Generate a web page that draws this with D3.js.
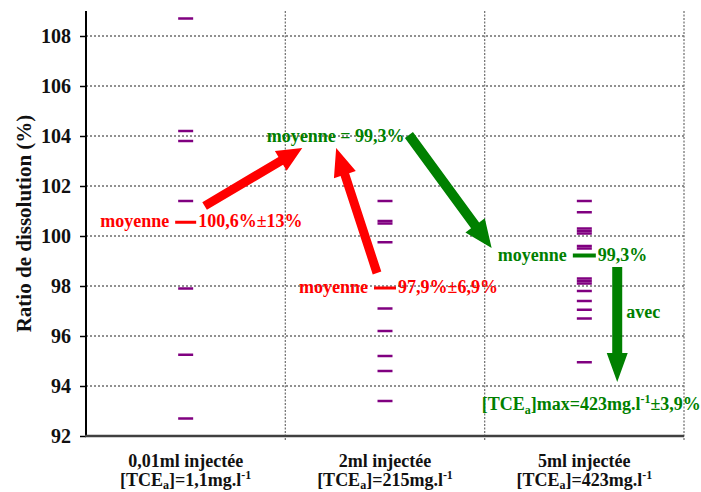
<!DOCTYPE html>
<html><head><meta charset="utf-8">
<script src="https://cdn.jsdelivr.net/npm/d3@7"></script>
<style>
body{margin:0;background:#fff;}
svg{display:block;}
</style></head>
<body><div id="chart"></div>
<script>
// ---- data ----
const categories = ["0,01ml injectée", "2ml injectée", "5ml injectée"];
const concentrations = ["1,1", "215", "423"];
const yTicks = [92, 94, 96, 98, 100, 102, 104, 106, 108];
const series1 = [108.7, 104.2, 103.8, 101.4, 97.9, 95.25, 92.7];
const series2 = [101.4, 100.6, 100.5, 99.75, 97.1, 96.2, 95.2, 94.6, 93.4];
const series3 = [101.4, 100.95, 100.3, 100.2, 100.1, 99.6, 99.5, 98.3, 98.2, 98.1, 97.8, 97.4, 97.05, 96.7, 94.95];
const meanValues = [100.55, 97.92, 99.22];
const meanLabels = ["100,6%±13%", "97,9%±6,9%", "99,3%"];
const overallMean = 99.3;

const W = 701, H = 492;
const margin = {left: 86, right: 17, top: 11, bottom: 56};
const svg = d3.select("#chart").append("svg").attr("width", W).attr("height", H);

const x = d3.scaleLinear().domain([0, 3]).range([margin.left, W - margin.right]);
const y = d3.scaleLinear().domain([92, 109]).range([H - margin.bottom, margin.top]);

const RED = "#ff0000", GREEN = "#008000", PURPLE = "#800080";

// gridlines
svg.append("g").selectAll("line").data(yTicks.filter(d => d > 92)).join("line")
  .attr("x1", x(0)).attr("x2", x(3)).attr("y1", d => y(d)).attr("y2", d => y(d))
  .attr("stroke", "#222").attr("stroke-width", 1).attr("stroke-dasharray", "2,2");
svg.append("g").selectAll("line").data([1, 2, 3]).join("line")
  .attr("x1", d => x(d)).attr("x2", d => x(d)).attr("y1", y(109)).attr("y2", y(92) + 4)
  .attr("stroke", "#777").attr("stroke-width", 1.3).attr("stroke-dasharray", "2,1.5");

// axes
const yAxis = d3.axisLeft(y).tickValues(yTicks).tickSize(6).tickPadding(9).tickFormat(d3.format("d"));
const gy = svg.append("g").attr("transform", `translate(${x(0)},0)`).call(yAxis);
gy.select(".domain").remove();
gy.selectAll(".tick line").attr("stroke", "#000").attr("stroke-width", 1.5);
gy.selectAll(".tick text").attr("fill", "#111").style("font-size", "20px");
svg.append("line").attr("x1", x(0)).attr("x2", x(0)).attr("y1", y(109)).attr("y2", y(92))
  .attr("stroke", "#000").attr("stroke-width", 2);
svg.append("line").attr("x1", x(0) - 1).attr("x2", x(3)).attr("y1", y(92)).attr("y2", y(92))
  .attr("stroke", "#404040").attr("stroke-width", 2.5);

// axis title
svg.append("text").attr("transform", `translate(24,${y(100.5)}) rotate(-90)`)
  .attr("text-anchor", "middle").attr("dominant-baseline", "central")
  .attr("font-size", 21).attr("fill", "#111").text("Ratio de dissolution (%)");

// category labels
const catG = svg.append("g").selectAll("g").data(categories).join("g")
  .attr("transform", (d, i) => `translate(${x(i + 0.5)},0)`);
catG.append("text").attr("y", 467).attr("text-anchor", "middle").attr("font-size", 18)
  .attr("fill", "#111").text(d => d);
const l2 = catG.append("text").attr("y", 486).attr("text-anchor", "middle").attr("font-size", 18).attr("fill", "#111");
l2.append("tspan").text("[TCE");
l2.append("tspan").attr("font-size", 12).attr("dy", 3).text("a");
l2.append("tspan").attr("dy", -3).text((d, i) => "]=" + concentrations[i] + "mg.l");
l2.append("tspan").attr("font-size", 12).attr("dy", -7).text("-1");

// measurement marks
const allSeries = [series1, series2, series3];
allSeries.forEach((s, i) => {
  svg.append("g").selectAll("line").data(s).join("line")
    .attr("x1", x(i + 0.5) - 7.5).attr("x2", x(i + 0.5) + 7.5)
    .attr("y1", d => y(d)).attr("y2", d => y(d))
    .attr("stroke", PURPLE).attr("stroke-width", 2.5);
});

// means
const meanColors = [RED, RED, GREEN];
const meanHalf = [10.5, 11, 11.5];
meanValues.forEach((m, i) => {
  const cx = x(i + 0.5), cy = y(m);
  svg.append("line").attr("x1", cx - meanHalf[i]).attr("x2", cx + meanHalf[i])
    .attr("y1", cy).attr("y2", cy).attr("stroke", meanColors[i]).attr("stroke-width", i === 2 ? 4 : 3);
  svg.append("text").attr("x", cx - meanHalf[i] - 6).attr("y", cy + 5).attr("text-anchor", "end")
    .attr("font-size", 18).attr("fill", meanColors[i]).text("moyenne");
  svg.append("text").attr("x", cx + meanHalf[i] + 2).attr("y", cy + 5).attr("text-anchor", "start")
    .attr("font-size", 18).attr("fill", meanColors[i]).text(meanLabels[i]);
});

// overall mean label
svg.append("text").attr("x", x(1.2525)).attr("y", y(104)).attr("text-anchor", "middle")
  .attr("dominant-baseline", "central").attr("font-size", 18).attr("fill", GREEN)
  .text("moyenne = " + String(overallMean).replace(".", ",") + "%");

// arrows (data coordinates)
const arrows = [
  {from: [0.595, 101.2], to: [1.085, 103.52], color: RED, shaft: 9, head: 23, hl: 25},
  {from: [1.46, 98.52], to: [1.255, 103.52], color: RED, shaft: 9, head: 23, hl: 28},
  {from: [1.62, 104.04], to: [2.035, 99.52], color: GREEN, shaft: 10, head: 24, hl: 28},
  {from: [2.665, 98.76], to: [2.665, 94.16], color: GREEN, shaft: 10, head: 21, hl: 29}
];
function arrowPath(a) {
  const x0 = x(a.from[0]), y0 = y(a.from[1]), x1 = x(a.to[0]), y1 = y(a.to[1]);
  const dx = x1 - x0, dy = y1 - y0, L = Math.hypot(dx, dy);
  const ux = dx / L, uy = dy / L, nx = -uy, ny = ux;
  const bx = x1 - ux * a.hl, by = y1 - uy * a.hl;
  const s = a.shaft / 2, h = a.head / 2;
  const pts = [
    [x0 + nx * s, y0 + ny * s], [bx + nx * s, by + ny * s], [bx + nx * h, by + ny * h],
    [x1, y1], [bx - nx * h, by - ny * h], [bx - nx * s, by - ny * s], [x0 - nx * s, y0 - ny * s]
  ];
  return "M" + pts.map(p => p.join(",")).join("L") + "Z";
}
svg.append("g").selectAll("path").data(arrows).join("path")
  .attr("d", arrowPath).attr("fill", d => d.color);

// extra annotations
svg.append("text").attr("x", x(2.71)).attr("y", y(96.96)).attr("dominant-baseline", "central")
  .attr("font-size", 18).attr("fill", GREEN).text("avec");
const t = svg.append("text").attr("x", x(1.985)).attr("y", 410).attr("font-size", 18).attr("fill", GREEN);
t.append("tspan").text("[TCE");
t.append("tspan").attr("font-size", 12).attr("dy", 4).text("a");
t.append("tspan").attr("dy", -4).text("]max=423mg.l");
t.append("tspan").attr("font-size", 12).attr("dy", -7).text("-1");
t.append("tspan").attr("dy", 7).text("±3,9%");

// fonts: inline style on every text
svg.selectAll("text").style("font-family", '"Liberation Serif"').style("font-weight", "bold");
</script></body></html>
